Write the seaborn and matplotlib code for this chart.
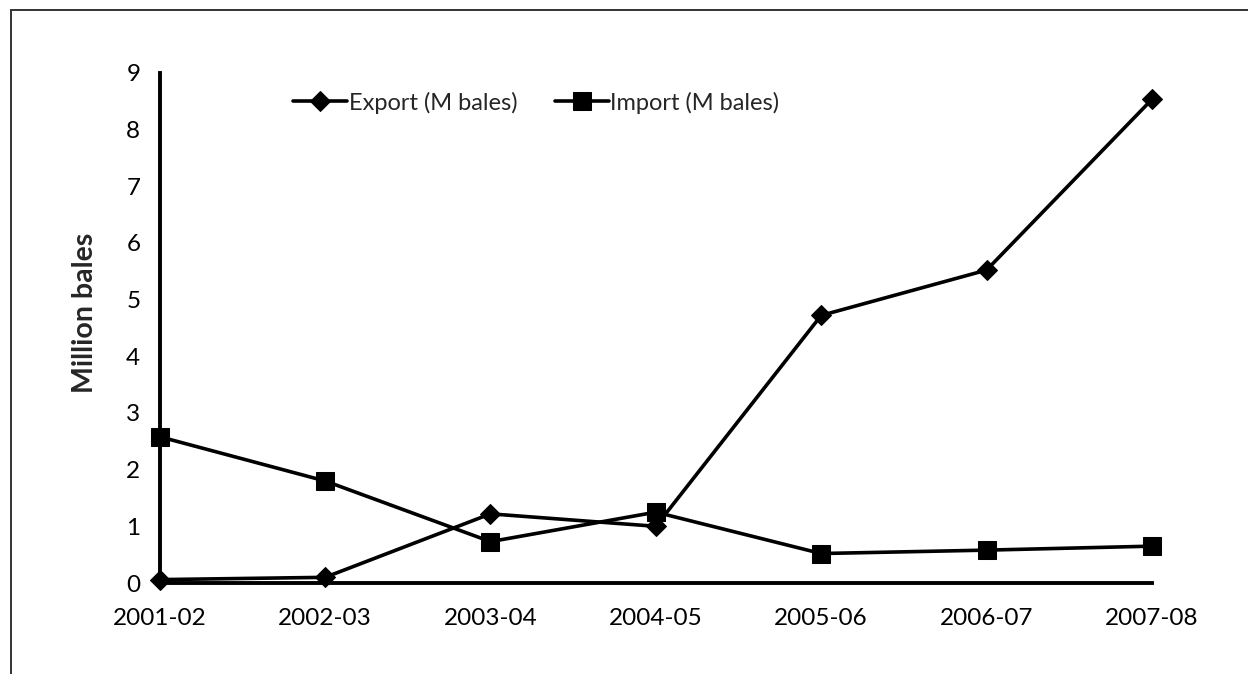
import pandas as pd
import matplotlib
matplotlib.use("Agg")
import matplotlib.pyplot as plt
import seaborn as sns
from matplotlib.patches import Rectangle

# Data
years = ["2001-02", "2002-03", "2003-04", "2004-05", "2005-06", "2006-07", "2007-08"]
export_bales = [0.06, 0.1, 1.22, 1.0, 4.72, 5.52, 8.53]
import_bales = [2.58, 1.8, 0.73, 1.25, 0.52, 0.58, 0.65]

df = pd.DataFrame({"Year": years, "Export": export_bales, "Import": import_bales})

sns.set_style("white")
plt.rcParams["font.family"] = ["Lato", "DejaVu Sans"]

fig = plt.figure(figsize=(12.48, 6.74), dpi=100)
ax = fig.add_axes([0.128, 0.135, 0.795, 0.757])

sns.lineplot(data=df, x="Year", y="Export", ax=ax, color="black", linewidth=2.6,
             marker="D", markersize=10.5, markeredgecolor="black", label="Export (M bales)",
             clip_on=False, zorder=3)
sns.lineplot(data=df, x="Year", y="Import", ax=ax, color="black", linewidth=2.6,
             marker="s", markersize=13, markeredgecolor="black", label="Import (M bales)",
             clip_on=False, zorder=3)

ax.set_xlim(0, len(years) - 1)
ax.set_ylim(0, 9)
ax.set_yticks(range(0, 10))
ax.tick_params(axis="both", length=0, labelsize=17.5, colors="black")
ax.tick_params(axis="x", pad=18)
ax.tick_params(axis="y", pad=14)
ax.set_xlabel("")
ax.set_ylabel("Million bales", fontsize=20.5, fontweight="bold")
ax.yaxis.set_label_coords(-0.062, 0.53)

for side in ["top", "right"]:
    ax.spines[side].set_visible(False)
for side in ["left", "bottom"]:
    ax.spines[side].set_color("black")
    ax.spines[side].set_linewidth(2.8)

ax.legend(loc="upper left", bbox_to_anchor=(0.113, 1.005), ncol=2, frameon=False,
          fontsize=17, handlelength=2.3, handletextpad=0.05, columnspacing=1.6)

# outer page frame (cut off at right and bottom)
fig.patches.append(Rectangle((0.009, -0.1), 1.2, 1.085, transform=fig.transFigure,
                             fill=False, edgecolor="#333333", linewidth=1.4))

fig.savefig("out.png", dpi=100)
